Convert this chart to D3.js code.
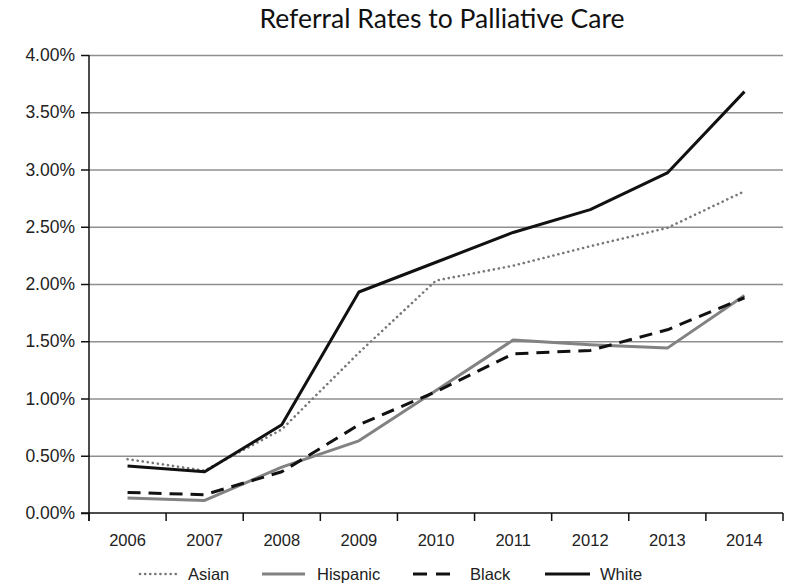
<!DOCTYPE html>
<html>
<head>
<meta charset="utf-8">
<script src="https://cdn.jsdelivr.net/npm/d3@7"></script>
<style>
  html, body { margin: 0; padding: 0; background: #fff; }
  svg { display: block; }
</style>
</head>
<body>
<svg id="chart" width="790" height="586"></svg>
<script>
const years = ["2006","2007","2008","2009","2010","2011","2012","2013","2014"];
const asian    = [0.47, 0.37, 0.73, 1.40, 2.03, 2.16, 2.33, 2.49, 2.81];
const hispanic = [0.13, 0.11, 0.40, 0.63, 1.07, 1.51, 1.47, 1.44, 1.90];
const black    = [0.18, 0.16, 0.36, 0.77, 1.06, 1.39, 1.42, 1.60, 1.88];
const white    = [0.41, 0.36, 0.77, 1.93, 2.19, 2.45, 2.65, 2.97, 3.68];
const yTicks   = [0, 0.5, 1.0, 1.5, 2.0, 2.5, 3.0, 3.5, 4.0];
const seriesNames = ["Asian", "Hispanic", "Black", "White"];
const chartTitle = "Referral Rates to Palliative Care";

const series = [
  { name: seriesNames[0], values: asian,    color: "#777777", width: 2.6, dash: "0.1,5",  cap: "round", legLen: 38, legText: 48 },
  { name: seriesNames[1], values: hispanic, color: "#828282", width: 3,   dash: null,     cap: "butt",  legLen: 43, legText: 55 },
  { name: seriesNames[2], values: black,    color: "#111111", width: 3,   dash: "13,8",   cap: "butt",  legLen: 44, legText: 57 },
  { name: seriesNames[3], values: white,    color: "#111111", width: 3,   dash: null,     cap: "butt",  legLen: 45, legText: 55 }
];

const svg = d3.select("#chart");
const mLeft = 89, mRight = 783, mTop = 55, mBottom = 513;

const x = d3.scaleBand().domain(years).range([mLeft, mRight]).padding(0);
const y = d3.scaleLinear().domain([0, 4]).range([mBottom, mTop]);
const fontFam = '"Liberation Sans", Arial, Helvetica, sans-serif';

// Title
svg.append("text")
  .attr("x", 442).attr("y", 28)
  .attr("text-anchor", "middle")
  .attr("font-family", "Lato, sans-serif")
  .attr("font-size", 26.5)
  .attr("fill", "#111")
  .text(chartTitle);

// Gridlines
const grid = svg.append("g").attr("transform", `translate(${mLeft},0)`)
  .call(d3.axisLeft(y).tickValues(yTicks.filter(d => d > 0)).tickSize(-(mRight - mLeft)).tickFormat(""));
grid.select(".domain").remove();
grid.selectAll(".tick line").attr("stroke", "#8f8f8f").attr("stroke-width", 1.4);

// Y axis
const yAxis = svg.append("g").attr("transform", `translate(${mLeft},0)`)
  .call(d3.axisLeft(y).tickValues(yTicks).tickSize(8).tickPadding(6)
    .tickFormat(d => d.toFixed(2) + "%"));
yAxis.select(".domain").remove();
yAxis.selectAll(".tick line").attr("stroke", "#111").attr("stroke-width", 1.5);
yAxis.selectAll(".tick text").attr("font-family", fontFam).attr("font-size", 17.5).attr("fill", "#222");
svg.append("line")
  .attr("x1", mLeft).attr("x2", mLeft)
  .attr("y1", y.range()[1]).attr("y2", y.range()[0] + 8)
  .attr("stroke", "#111").attr("stroke-width", 1.5);

// X axis
const xAxis = svg.append("g").attr("transform", `translate(0,${mBottom})`)
  .call(d3.axisBottom(x).tickSize(0).tickPadding(21));
xAxis.select(".domain").remove();
xAxis.selectAll(".tick text").attr("font-family", fontFam).attr("font-size", 16.5).attr("fill", "#222");
const edges = years.map(d => x(d)).concat([x.range()[1]]);
svg.append("g").selectAll("line").data(edges).join("line")
  .attr("x1", d => d).attr("x2", d => d)
  .attr("y1", mBottom).attr("y2", mBottom + 8)
  .attr("stroke", "#111").attr("stroke-width", 1.5);
svg.append("line")
  .attr("x1", mLeft - 8).attr("x2", x.range()[1])
  .attr("y1", mBottom).attr("y2", mBottom)
  .attr("stroke", "#111").attr("stroke-width", 1.5);

// Lines
const line = d3.line()
  .x((d, i) => x(years[i]) + x.bandwidth() / 2)
  .y(d => y(d));

svg.append("g").selectAll("path").data(series).join("path")
  .attr("d", s => line(s.values))
  .attr("fill", "none")
  .attr("stroke", s => s.color)
  .attr("stroke-width", s => s.width)
  .attr("stroke-dasharray", s => s.dash)
  .attr("stroke-linecap", s => s.cap)
  .attr("stroke-linejoin", "round");

// Legend
const legendX = [140, 262, 413, 545];
const leg = svg.append("g").selectAll("g").data(series).join("g")
  .attr("transform", (s, i) => `translate(${legendX[i]},574)`);
leg.append("line")
  .attr("x1", 0).attr("x2", s => s.legLen).attr("y1", 0).attr("y2", 0)
  .attr("stroke", s => s.color)
  .attr("stroke-width", s => s.width)
  .attr("stroke-dasharray", s => s.dash === "13,8" ? "14,9" : s.dash)
  .attr("stroke-linecap", s => s.cap);
leg.append("text")
  .attr("x", s => s.legText).attr("y", 6)
  .attr("font-family", fontFam).attr("font-size", 16.5).attr("fill", "#222")
  .text(s => s.name);
</script>
</body>
</html>
